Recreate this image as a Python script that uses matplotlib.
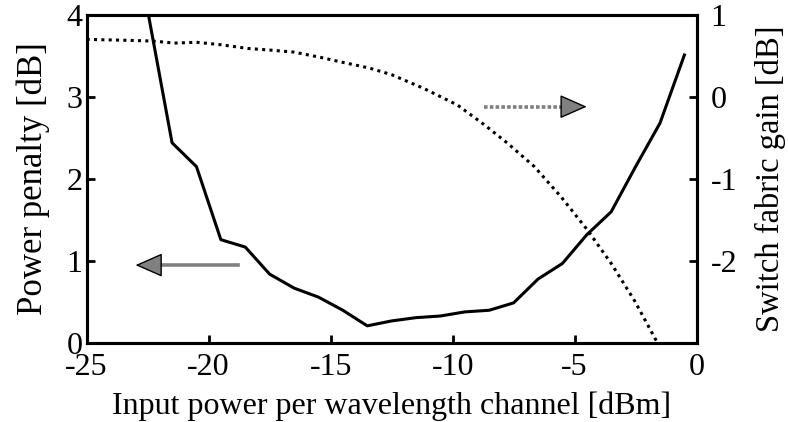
import matplotlib.pyplot as plt

plt.rcParams["font.family"] = ["Liberation Serif", "DejaVu Serif"]
plt.rcParams["font.size"] = 23
plt.rcParams["axes.unicode_minus"] = False

# power penalty (left axis)
penalty_x = [-22.5, -21.5, -20.5, -19.5, -18.5, -17.5, -16.5, -15.5, -14.5, -13.5,
             -12.5, -11.5, -10.5, -9.5, -8.5, -7.5, -6.5, -5.5, -4.5, -3.5,
             -2.5, -1.5, -0.5]
penalty_db = [4.05, 2.44, 2.15, 1.26, 1.17, 0.84, 0.67, 0.56, 0.40, 0.21,
              0.27, 0.31, 0.33, 0.38, 0.40, 0.49, 0.78, 0.97, 1.32, 1.60,
              2.15, 2.68, 3.51]

# switch fabric gain (right axis)
gain_x = [-25.0, -23.5, -22.3, -21.4, -20.5, -19.5, -18.4, -17.5, -16.5, -15.4,
          -14.5, -13.4, -12.5, -11.2, -9.8, -8.7, -7.75, -6.65, -5.55, -4.48,
          -3.5, -2.55, -1.6]
gain_db = [0.70, 0.69, 0.68, 0.655, 0.665, 0.635, 0.59, 0.57, 0.545, 0.48,
           0.42, 0.35, 0.27, 0.105, -0.10, -0.34, -0.565, -0.85, -1.22, -1.62,
           -2.03, -2.48, -3.0]

fig = plt.figure(figsize=(7.88, 4.22), dpi=100)
ax = fig.add_axes([0.110, 0.187, 0.774, 0.778])
ax2 = ax.twinx()

ax.plot(penalty_x, penalty_db, color="black", lw=2.2)
ax2.plot(gain_x, gain_db, color="black", lw=2.2, linestyle=(0, (1, 1.4)))

ax.set_xlim(-25, 0)
ax.set_ylim(0, 4)
ax2.set_ylim(-3, 1)
ax.set_xticks([-25, -20, -15, -10, -5, 0])
ax.set_yticks([0, 1, 2, 3, 4])
ax2.set_yticks([-2, -1, 0, 1])

# arrows pointing to the axes: gray shaft, gray head with black edge
head = dict(arrowstyle="-|>,head_length=0.75,head_width=0.33",
            ec="black", fc="gray", lw=1.0, shrinkA=0, shrinkB=0)
ax.plot([-18.8, -22.2], [0.95, 0.95], color="gray", lw=2.6)
ax.annotate("", xy=(-23.0, 0.95), xytext=(-22.3, 0.95), arrowprops=head)
ax.plot([-8.7, -5.2], [2.88, 2.88], color="gray", lw=2.6, linestyle=(0, (1, 0.6)))
ax.annotate("", xy=(-4.5, 2.88), xytext=(-5.2, 2.88), arrowprops=head)

ax.set_xlabel("Input power per wavelength channel [dBm]", labelpad=7)
ax.set_ylabel("Power penalty [dB]", labelpad=12, fontsize=25)
ax2.set_ylabel("Switch fabric gain [dB]", labelpad=13, fontsize=23.5)

for a in (ax, ax2):
    for s in a.spines.values():
        s.set_linewidth(2.2)
ax.tick_params(direction="in", length=6, width=2, top=False, right=False)
ax.tick_params(axis="y", pad=3)
ax.tick_params(axis="x", pad=7)
ax2.tick_params(direction="in", length=6, width=2, pad=10)

fig.savefig("out.png", dpi=100)
